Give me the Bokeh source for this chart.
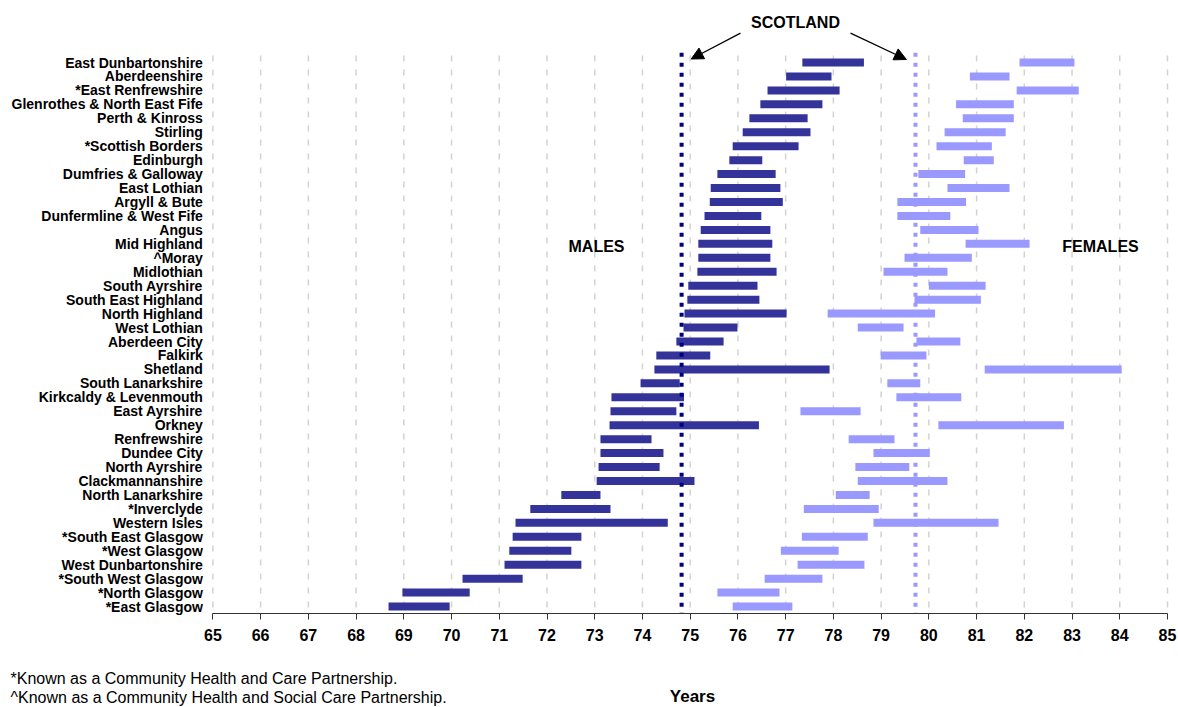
from bokeh.plotting import figure
from bokeh.models import Range1d, FixedTicker, Arrow, NormalHead
from bokeh.core.properties import value
from bokeh.embed import file_html
from bokeh.resources import INLINE

# ---------------- data ----------------
areas = [
    "East Dunbartonshire", "Aberdeenshire", "*East Renfrewshire",
    "Glenrothes & North East Fife", "Perth & Kinross", "Stirling",
    "*Scottish Borders", "Edinburgh", "Dumfries & Galloway", "East Lothian",
    "Argyll & Bute", "Dunfermline & West Fife", "Angus", "Mid Highland",
    "^Moray", "Midlothian", "South Ayrshire", "South East Highland",
    "North Highland", "West Lothian", "Aberdeen City", "Falkirk", "Shetland",
    "South Lanarkshire", "Kirkcaldy & Levenmouth", "East Ayrshire", "Orkney",
    "Renfrewshire", "Dundee City", "North Ayrshire", "Clackmannanshire",
    "North Lanarkshire", "*Inverclyde", "Western Isles", "*South East Glasgow",
    "*West Glasgow", "West Dunbartonshire", "*South West Glasgow",
    "*North Glasgow", "*East Glasgow",
]

male_low = [
    77.35, 77.01, 76.62, 76.47, 76.24, 76.10, 75.89, 75.82, 75.57, 75.43,
    75.41, 75.30, 75.22, 75.17, 75.17, 75.15, 74.96, 74.94, 74.88, 74.86,
    74.71, 74.29, 74.25, 73.96, 73.35, 73.33, 73.31, 73.12, 73.12, 73.08,
    73.04, 72.30, 71.65, 71.34, 71.28, 71.21, 71.11, 70.23, 68.97, 68.68,
]
male_high = [
    78.64, 77.96, 78.13, 77.77, 77.46, 77.52, 77.27, 76.51, 76.79, 76.89,
    76.94, 76.49, 76.68, 76.72, 76.68, 76.81, 76.41, 76.45, 77.02, 75.99,
    75.70, 75.42, 77.92, 74.78, 74.87, 74.71, 76.44, 74.19, 74.44, 74.36,
    75.09, 73.12, 73.33, 74.53, 72.72, 72.51, 72.72, 71.49, 70.38, 69.96,
]
female_low = [
    81.90, 80.86, 81.84, 80.57, 80.71, 80.33, 80.16, 80.73, 79.78, 80.39,
    79.34, 79.34, 79.82, 80.77, 79.49, 79.05, 80.00, 79.70, 77.88, 78.51,
    79.74, 78.99, 81.17, 79.13, 79.32, 77.31, 80.20, 78.32, 78.84, 78.46,
    78.51, 78.05, 77.38, 78.84, 77.34, 76.90, 77.25, 76.56, 75.57, 75.89,
]
female_high = [
    83.05, 81.69, 83.14, 81.78, 81.78, 81.61, 81.32, 81.36, 80.76, 81.69,
    80.78, 80.45, 81.04, 82.11, 80.90, 80.39, 81.19, 81.09, 80.13, 79.47,
    80.66, 79.95, 84.04, 79.82, 80.68, 78.57, 82.83, 79.28, 80.02, 79.59,
    80.39, 78.76, 78.95, 81.46, 78.72, 78.11, 78.65, 77.77, 76.87, 77.14,
]

scotland_male = 74.82
scotland_female = 79.72

x_min, x_max = 65, 85
x_ticks = list(range(x_min, x_max + 1))
footnotes = [
    "*Known as a Community Health and Care Partnership.",
    "^Known as a Community Health and Social Care Partnership.",
]
x_title = "Years"

# ---------------- layout helpers ----------------
FONT = "Liberation Sans"
W, H = 1178, 707
X0_PX, PX_PER_YEAR = 212.4, 47.73       # page px of x=65, px per year
ROW0_PX, PX_PER_ROW = 62.0, 13.95       # page px of first row centre, row pitch
AXIS_PX = 613                           # page px of the x-axis line


def xd(px):
    return x_min + (px - X0_PX) / PX_PER_YEAR


def yd(py):
    return (py - ROW0_PX) / PX_PER_ROW


rows = list(range(len(areas)))
top_row = -0.5
bottom_row = yd(AXIS_PX)

p = figure(
    frame_width=W, frame_height=H, min_border=0,
    x_range=Range1d(xd(0), xd(W)), y_range=Range1d(yd(H), yd(0)),
    output_backend="svg", toolbar_location=None,
)
p.outline_line_color = None
p.xgrid.visible = False
p.ygrid.visible = False
p.background_fill_color = "white"
p.border_fill_color = "white"

# dashed vertical grid lines
p.segment(x0=x_ticks, y0=[top_row] * len(x_ticks), x1=x_ticks, y1=[bottom_row] * len(x_ticks),
          line_color="#d2d2d2", line_width=1.5, line_dash="6 8")

# bars
p.hbar(y=rows, left=male_low, right=male_high, height=0.57, fill_color="#333399", line_color=None)
p.hbar(y=rows, left=female_low, right=female_high, height=0.57, fill_color="#9999ff", line_color=None)

# Scotland reference lines
p.segment(x0=[scotland_male], y0=[top_row - 0.2], x1=[scotland_male], y1=[bottom_row],
          line_color="#000080", line_width=4, line_dash="4 6")
p.segment(x0=[scotland_female], y0=[top_row - 0.2], x1=[scotland_female], y1=[bottom_row],
          line_color="#9999ff", line_width=4, line_dash="4 6")

# axes (kept in their side panels, drawn at fixed positions)
xa = p.xaxis[0]
xa.fixed_location = bottom_row
xa.bounds = (x_min, x_max)
xa.ticker = FixedTicker(ticks=x_ticks, minor_ticks=[])
xa.axis_line_color = "#333333"
xa.axis_line_width = 1.2
xa.major_tick_line_color = "#333333"
xa.major_tick_out = 6
xa.major_tick_in = 0
xa.major_label_standoff = 9
xa.major_label_text_font = FONT
xa.major_label_text_font_style = "bold"
xa.major_label_text_font_size = "16px"
xa.major_label_text_color = "black"

ya = p.yaxis[0]
ya.fixed_location = x_min
ya.ticker = FixedTicker(ticks=rows, minor_ticks=[])
ya.major_label_overrides = {i: name for i, name in enumerate(areas)}
ya.axis_line_color = None
ya.major_tick_line_color = None
ya.major_tick_out = 0
ya.major_tick_in = 0
ya.major_label_standoff = 10
ya.major_label_text_font = FONT
ya.major_label_text_font_style = "bold"
ya.major_label_text_font_size = "14px"
ya.major_label_text_color = "black"

# annotation texts
p.text(x=[xd(795), xd(596), xd(1100)], y=[yd(22), yd(246), yd(246)],
       text=["SCOTLAND", "MALES", "FEMALES"],
       text_font=value(FONT), text_font_size="16px", text_font_style="bold",
       text_color="black", text_align="center", text_baseline="middle")

for (sx, sy), (ex, ey) in [((xd(740), yd(32.6)), (scotland_male + 0.2, yd(58.5))),
                           ((xd(850), yd(32.6)), (scotland_female - 0.19, yd(59)))]:
    p.add_layout(Arrow(
        end=NormalHead(size=12, fill_color="black", line_color="black"),
        x_start=sx, y_start=sy, x_end=ex, y_end=ey,
        line_color="black", line_width=1.3,
    ))

# footnotes and axis title
p.text(x=[xd(10), xd(10)], y=[yd(678), yd(697)], text=footnotes,
       text_font=value(FONT), text_font_size="16px", text_color="black",
       text_align="left", text_baseline="middle")
p.text(x=[xd(692)], y=[yd(696)], text=[x_title],
       text_font=value(FONT), text_font_size="17px", text_font_style="bold",
       text_color="black", text_align="center", text_baseline="middle")

open("out.html", "w").write(file_html(p, INLINE))
